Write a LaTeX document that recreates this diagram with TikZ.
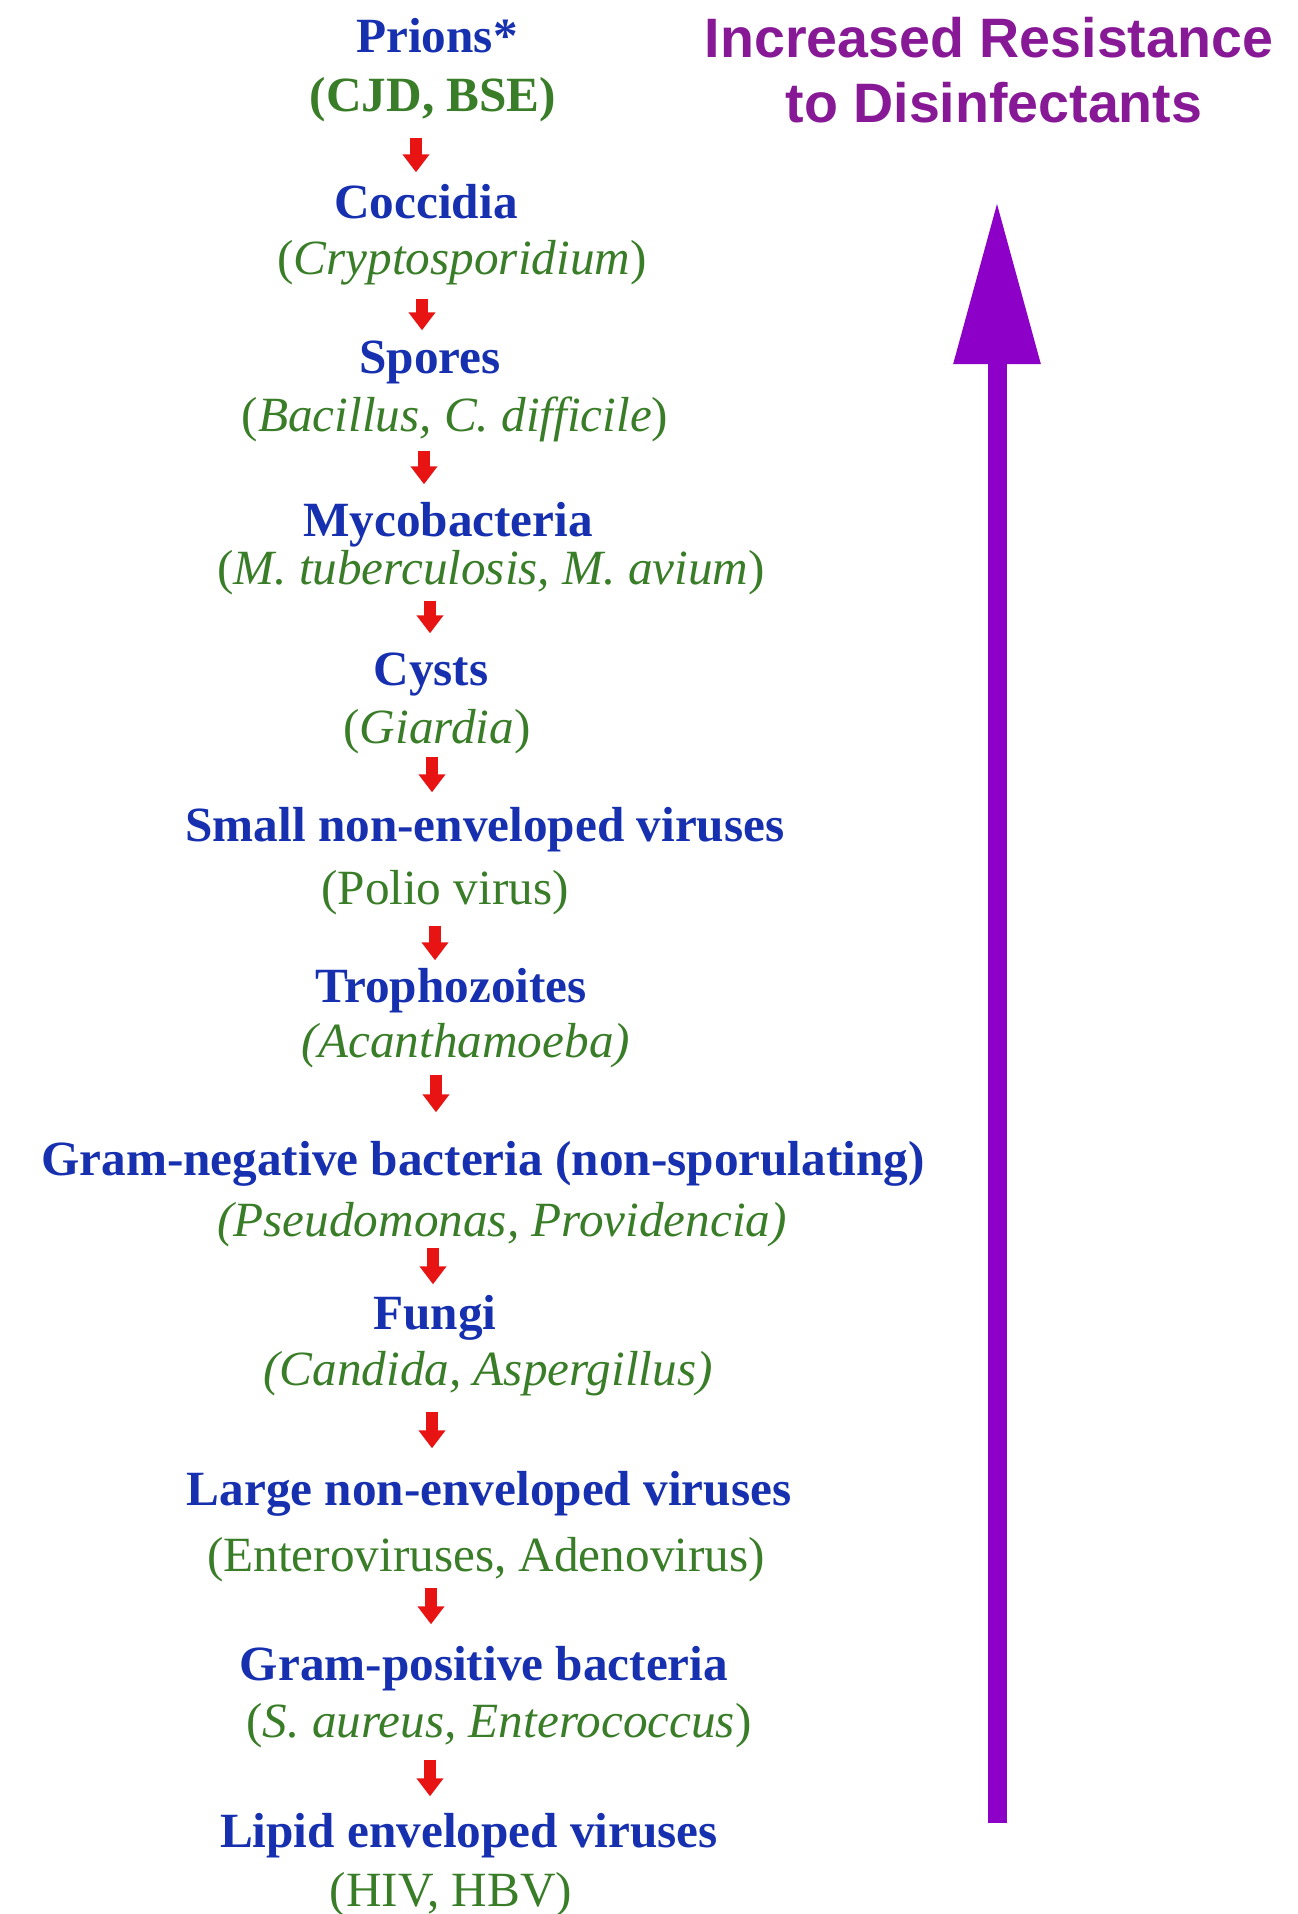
\documentclass[tikz,border=0pt]{standalone}
\usepackage{fontspec}
\setmainfont{Liberation Serif}
\newfontfamily\headfont{Liberation Sans}
\usetikzlibrary{arrows.meta}
\definecolor{orgblue}{RGB}{22,48,175}
\definecolor{orggreen}{RGB}{58,125,40}
\definecolor{stepred}{RGB}{232,20,20}
\definecolor{headpurple}{RGB}{135,25,150}
\definecolor{arrowpurple}{RGB}{140,0,200}

\begin{document}
\begin{tikzpicture}[x=0.01cm, y=-0.01cm,
	every node/.style={inner sep=0pt, anchor=base, text height=0.34cm, text depth=0.1cm, font=\fontsize{14pt}{17pt}\selectfont},
	group/.style={text=orgblue, font=\fontsize{14pt}{17pt}\selectfont\bfseries},
	example/.style={text=orggreen},
	redarrow/.style={draw=stepred, line width=0.12cm, -{Triangle[width=0.26cm, length=0.18cm]}}]
	\useasboundingbox (0,0) rectangle (1298,1914);
	\node[text=headpurple, font=\headfont\bfseries\fontsize{15.8pt}{19pt}\selectfont] (title) at (989,57) {Increased Resistance};
	\node[text=headpurple, font=\headfont\bfseries\fontsize{15.8pt}{19pt}\selectfont] (subtitle) at (994,122) {to Disinfectants};
	\coordinate (resBase) at (997,1823);
	\coordinate (resTip) at (997,201);
	\draw[draw=arrowpurple, line width=0.19cm, -{Triangle[width=0.82cm, length=1.63cm]}] (resBase) -- (resTip);

	\node[group] (prions) at (437,52) {Prions*};
	\node[example, font=\fontsize{14pt}{17pt}\selectfont\bfseries] (prionsEx) at (433,111) {(CJD, BSE)};
	\node[group] (coccidia) at (426,218) {Coccidia};
	\node[example] (coccidiaEx) at (462,274) {(\textit{Cryptosporidium})};
	\node[group] (spores) at (430,373) {Spores};
	\node[example] (sporesEx) at (455,431) {(\textit{Bacillus, C. difficile})};
	\node[group] (myco) at (448,536) {Mycobacteria};
	\node[example] (mycoEx) at (491,584) {(\textit{M. tuberculosis, M. avium})};
	\node[group] (cysts) at (431,685) {Cysts};
	\node[example] (cystsEx) at (437,743) {(\textit{Giardia})};
	\node[group] (smallNev) at (485,841) {Small non-enveloped viruses};
	\node[example] (smallNevEx) at (445,904) {(Polio virus)};
	\node[group] (tropho) at (451,1002) {Trophozoites};
	\node[example] (trophoEx) at (466,1057) {\textit{(Acanthamoeba)}};
	\node[group] (gramNeg) at (483,1175) {Gram-negative bacteria (non-sporulating)};
	\node[example] (gramNegEx) at (502,1236) {\textit{(Pseudomonas, Providencia)}};
	\node[group] (fungi) at (435,1329) {Fungi};
	\node[example] (fungiEx) at (488,1385) {\textit{(Candida, Aspergillus)}};
	\node[group] (largeNev) at (489,1505) {Large non-enveloped viruses};
	\node[example] (largeNevEx) at (486,1571) {(Enteroviruses, Adenovirus)};
	\node[group] (gramPos) at (484,1680) {Gram-positive bacteria};
	\node[example] (gramPosEx) at (499,1737) {(\textit{S. aureus, Enterococcus})};
	\node[group] (lipid) at (469,1847) {Lipid enveloped viruses};
	\node[example] (lipidEx) at (451,1906) {(HIV, HBV)};

	\draw[redarrow, shorten <=0.16cm, shorten >=0.11cm] (prionsEx.south -| 416,0) -- (coccidia.north -| 416,0);
	\draw[redarrow, shorten <=0.14cm, shorten >=0.08cm] (coccidiaEx.south -| 422,0) -- (spores.north -| 422,0);
	\draw[redarrow, shorten <=0.09cm, shorten >=0.17cm] (sporesEx.south -| 424,0) -- (myco.north -| 424,0);
	\draw[redarrow, shorten <=0.06cm, shorten >=0.17cm] (mycoEx.south -| 430,0) -- (cysts.north -| 430,0);
	\draw[redarrow, shorten <=0.03cm, shorten >=0.14cm] (cystsEx.south -| 432,0) -- (smallNev.north -| 432,0);
	\draw[redarrow, shorten <=0.11cm, shorten >=0.07cm] (smallNevEx.south -| 435,0) -- (tropho.north -| 435,0);
	\draw[redarrow, shorten <=0.07cm, shorten >=0.28cm] (trophoEx.south -| 436,0) -- (gramNeg.north -| 436,0);
	\draw[redarrow, shorten <=0.01cm, shorten >=0.10cm] (gramNegEx.south -| 433,0) -- (fungi.north -| 433,0);
	\draw[redarrow, shorten <=0.16cm, shorten >=0.22cm] (fungiEx.south -| 432,0) -- (largeNev.north -| 432,0);
	\draw[redarrow, shorten <=0.06cm, shorten >=0.21cm] (largeNevEx.south -| 431,0) -- (gramPos.north -| 431,0);
	\draw[redarrow, shorten <=0.12cm, shorten >=0.16cm] (gramPosEx.south -| 430,0) -- (lipid.north -| 430,0);
\end{tikzpicture}
\end{document}
